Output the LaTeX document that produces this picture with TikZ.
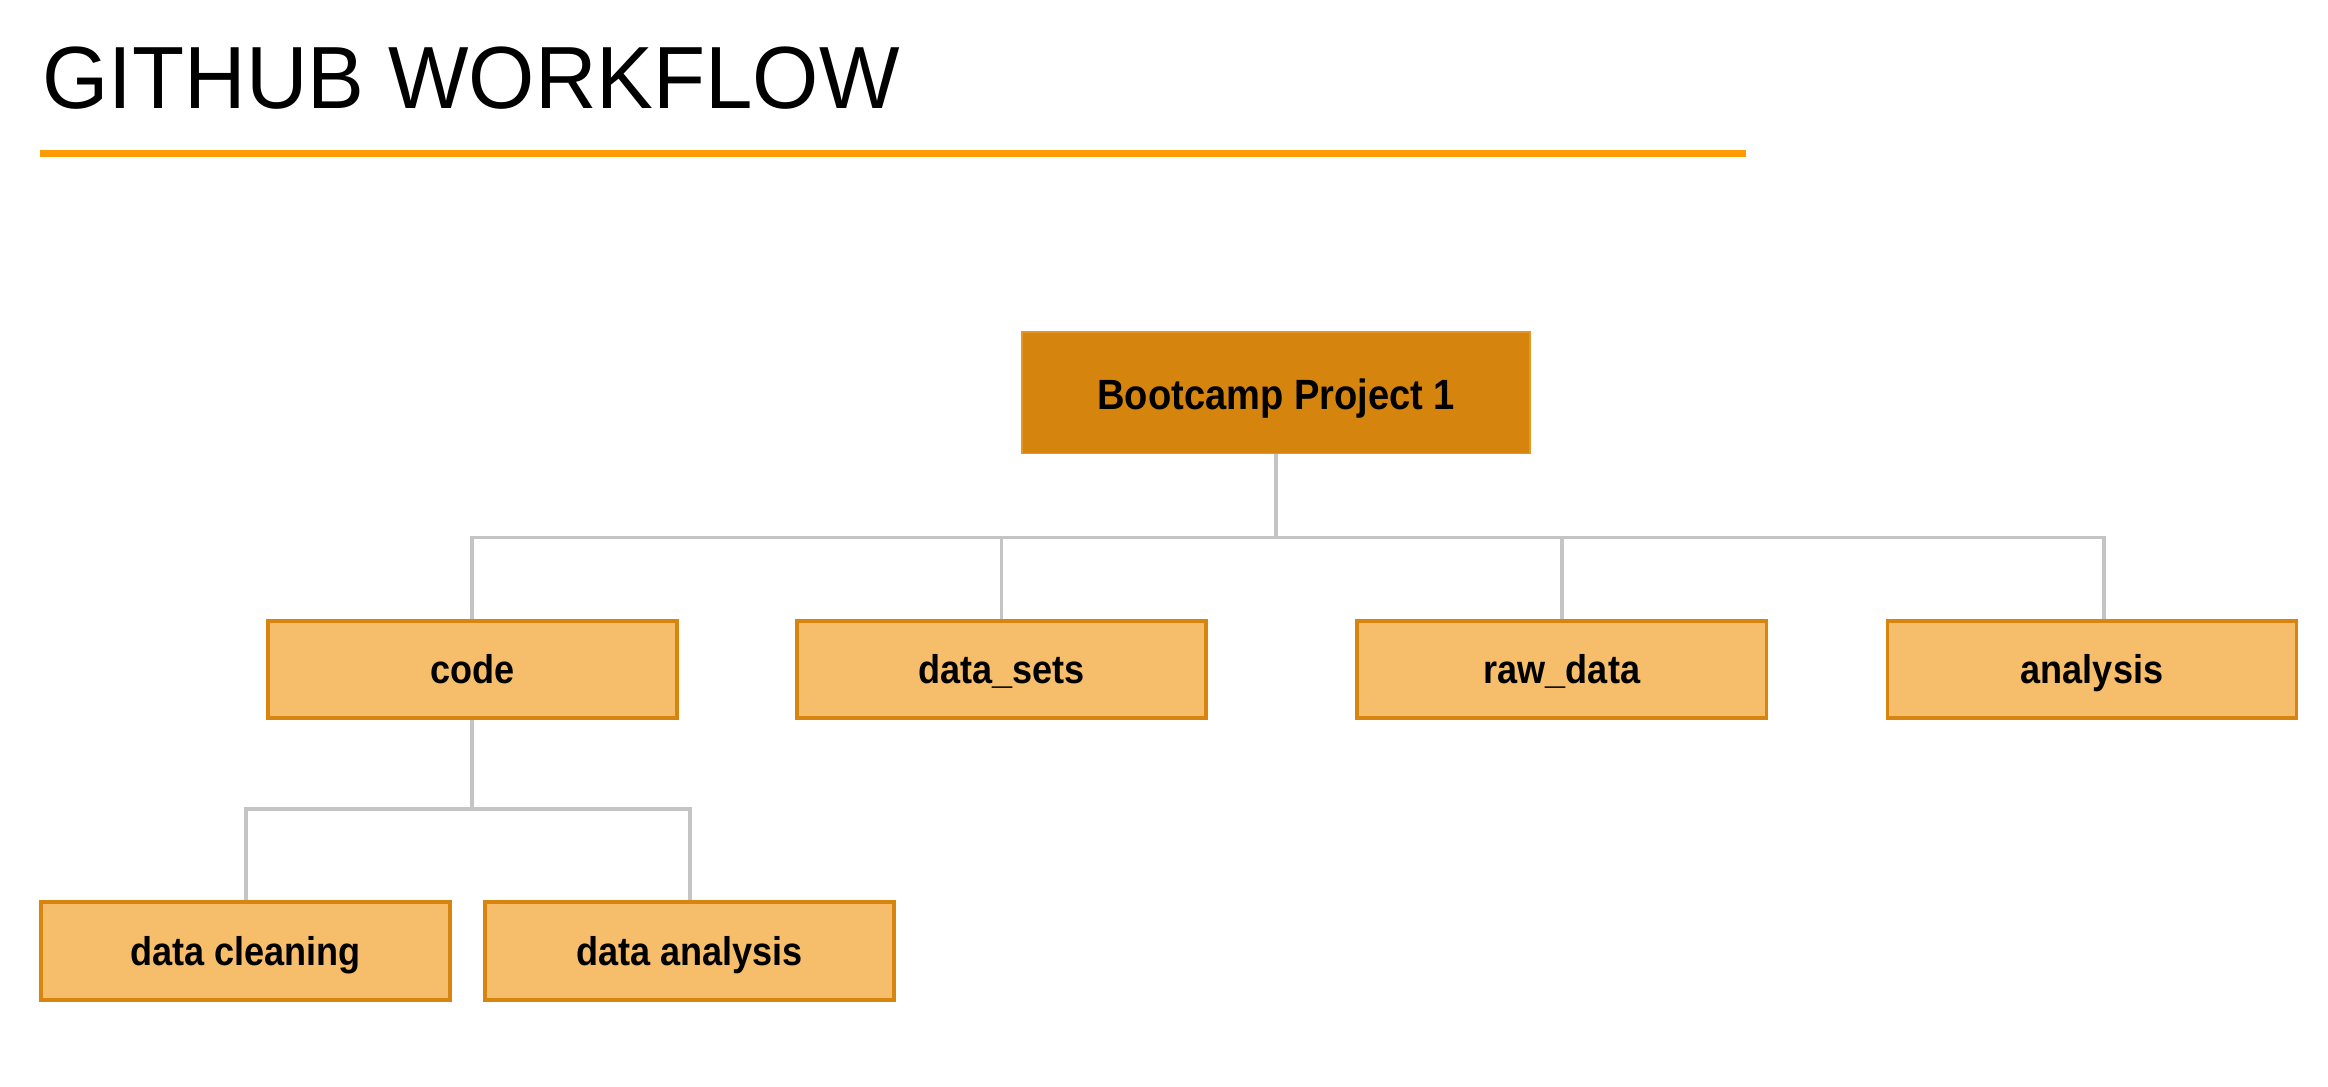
\documentclass[tikz,border=0pt]{standalone}
\usepackage{fontspec}
\setmainfont{Liberation Sans}
\usetikzlibrary{calc}
\definecolor{rootfill}{RGB}{213,133,14}
\definecolor{rootedge}{RGB}{228,150,40}
\definecolor{boxfill}{RGB}{246,190,106}
\definecolor{boxedge}{RGB}{216,133,15}
\definecolor{conncol}{RGB}{196,196,196}
\definecolor{titleline}{RGB}{255,155,0}
\newcommand\boxlbl[1]{\scalebox{0.9}[1]{\bfseries #1}}
\tikzset{
  rootbox/.style={rectangle, fill=rootfill, draw=rootedge, line width=1pt,
    minimum width=342pt, minimum height=82pt, inner sep=0pt,
    text height=22pt, text depth=0pt,
    font=\fontsize{28.5}{31}\selectfont},
  childbox/.style={rectangle, fill=boxfill, draw=boxedge, line width=2.6pt,
    minimum width=275.5pt, minimum height=65.5pt, inner sep=0pt,
    text height=19pt, text depth=0pt,
    font=\fontsize{27}{30}\selectfont},
  conn/.style={draw=conncol, line width=2.5pt},
}
\begin{document}
\begin{tikzpicture}[x=1pt,y=-1pt]
\useasboundingbox (0,0) rectangle (1568,731.5);
% title
\node[anchor=base west, inner sep=0pt, font=\fontsize{59.5}{64}\selectfont] (title) at (28.5,73)
  {\scalebox{0.965}[1]{GITHUB WORKFLOW}};
\draw[titleline, line width=5pt] (27,103.5) -- (1176,103.5);
% nodes
\node[rootbox] (root) at (859.5,264.5) {\boxlbl{Bootcamp Project 1}};
\node[childbox] (code) at (318,451) {\boxlbl{code}};
\node[childbox] (datasets) at (674.5,451) {\boxlbl{data\_sets}};
\node[childbox] (rawdata) at (1052,451) {\boxlbl{raw\_data}};
\node[childbox] (analysis) at (1409,451) {\boxlbl{analysis}};
\node[childbox] (dclean) at (165.5,640.5) {\boxlbl{data cleaning}};
\node[childbox] (danal) at (464.5,640.5) {\boxlbl{data analysis}};
% connectors
\draw[conn] (root.south) -- ++(0,56) -| (code.north);
\draw[conn] (root.south) -- ++(0,56) -| (datasets.north);
\draw[conn] (root.south) -- ++(0,56) -| (rawdata.north);
\draw[conn] (root.south) -- ++(0,56) -| ([xshift=8pt]analysis.north);
\draw[conn] (code.south) -- ++(0,60) -| (dclean.north);
\draw[conn] (code.south) -- ++(0,60) -| (danal.north);
\end{tikzpicture}
\end{document}
